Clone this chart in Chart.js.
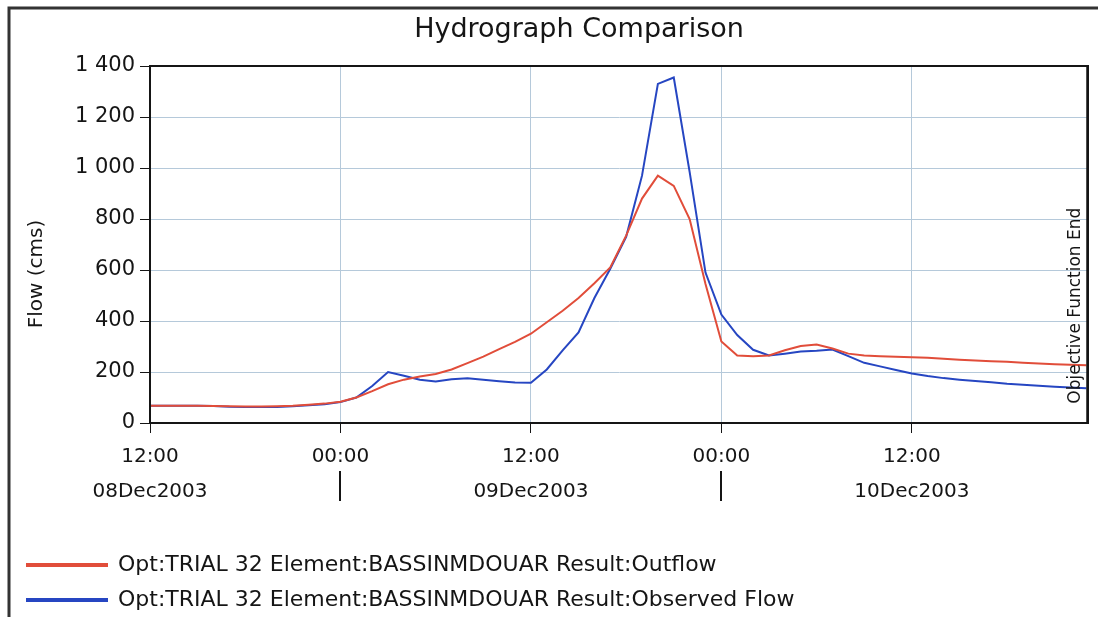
<!DOCTYPE html>
<html>
<head>
<meta charset="utf-8">
<title>Hydrograph Comparison</title>
<script src="https://cdn.jsdelivr.net/npm/chart.js@4.4.0/dist/chart.umd.min.js"></script>
<style>
    html, body { margin: 0; padding: 0; background: #fff; }
    #wrap { position: relative; width: 1098px; height: 617px; }
</style>
</head>
<body>
<div id="wrap"><canvas id="hydroChart"></canvas></div>
<script>
// hours after 12:00 08Dec2003
const hours = [0, 1, 2, 3, 4, 5, 6, 7, 8, 9,
    10, 11, 12, 13, 14, 15, 16, 17, 18, 19,
    20, 21, 22, 23, 24, 25, 26, 27, 28, 29,
    30, 31, 32, 33, 34, 35, 36, 37, 38, 39,
    40, 41, 42, 43, 44, 45, 46, 47, 48, 49,
    50, 51, 52, 53, 54, 55, 56, 57, 58, 59];

const outflow = [68, 68, 68, 68, 67, 66, 65, 65, 66, 68,
    72, 76, 83, 100, 125, 152, 170, 182, 192, 210,
    235, 260, 290, 318, 350, 395, 440, 490, 548, 610,
    735, 880, 970, 930, 800, 545, 320, 265, 262, 265,
    285, 302, 308, 292, 272, 265, 262, 260, 258, 256,
    252, 248, 245, 242, 240, 236, 233, 230, 228, 226];

const observed = [68, 68, 68, 68, 67, 64, 63, 63, 63, 66,
    70, 74, 82, 100, 145, 200, 185, 170, 163, 172,
    175, 170, 164, 159, 158, 210, 285, 355, 490, 605,
    730, 970, 1330, 1355, 985, 590, 425, 345, 287, 265,
    272, 280, 283, 288, 262, 236, 222, 208, 194, 184,
    176, 170, 165, 160, 154, 150, 146, 142, 139, 136];

const xTickHours = [0, 12, 24, 36, 48];
const xTickTimes = ['12:00', '00:00', '12:00', '00:00', '12:00'];
const xTickDates = ['08Dec2003', '', '09Dec2003', '', '10Dec2003'];
const dayBreakHours = [12, 36];
const yTicks = [0, 200, 400, 600, 800, 1000, 1200, 1400];
const endHour = 59.1;

const FONT = 'DejaVu Sans';
const INK = '#151515';
const GRID = '#b5c9da';

function formatFlow(v) {
    if (v < 1000) return String(v);
    return Math.floor(v / 1000) + ' ' + String(v % 1000).padStart(3, '0');
}

function rotatedText(ctx, text, x, y, size, baseline) {
    ctx.save();
    ctx.translate(x, y);
    ctx.rotate(-Math.PI / 2);
    ctx.fillStyle = INK;
    ctx.font = size + 'px "' + FONT + '"';
    ctx.textAlign = 'center';
    ctx.textBaseline = baseline;
    ctx.fillText(text, 0, 0);
    ctx.restore();
}

const decorPlugin = {
    id: 'decor',
    afterDraw(chart) {
        const { ctx, chartArea: a, scales: { x, y } } = chart;
        ctx.save();

        // title (sits a little left of the plot centre in the original)
        ctx.fillStyle = INK;
        ctx.font = '27px "' + FONT + '"';
        ctx.textAlign = 'center';
        ctx.textBaseline = 'middle';
        ctx.fillText('Hydrograph Comparison', 579, 30);

        // plot frame
        ctx.strokeStyle = INK;
        ctx.lineWidth = 2;
        ctx.strokeRect(a.left, a.top, a.right - a.left, a.bottom - a.top);

        // day separators under 00:00
        dayBreakHours.forEach(h => {
            const px = Math.round(x.getPixelForValue(h));
            ctx.beginPath();
            ctx.moveTo(px, a.bottom + 48);
            ctx.lineTo(px, a.bottom + 78);
            ctx.stroke();
        });

        // objective function end marker
        const ex = x.getPixelForValue(endHour) - 1;
        ctx.lineWidth = 1.5;
        ctx.beginPath();
        ctx.moveTo(ex, a.top);
        ctx.lineTo(ex, a.bottom);
        ctx.stroke();
        rotatedText(ctx, 'Objective Function End', ex - 7, y.getPixelForValue(460), 17, 'alphabetic');

        // y axis title
        rotatedText(ctx, 'Flow (cms)', 37, 274, 20, 'middle');

        // outer frame (top and left)
        ctx.strokeStyle = '#333';
        ctx.lineWidth = 3;
        ctx.beginPath();
        ctx.moveTo(9, chart.height);
        ctx.lineTo(9, 8);
        ctx.lineTo(chart.width, 8);
        ctx.stroke();

        ctx.restore();
    }
};

const ctx = document.getElementById('hydroChart').getContext('2d');
const hydroChart = new Chart(ctx, {
    type: 'line',
    data: {
        datasets: [
            {
                label: 'Opt:TRIAL 32 Element:BASSINMDOUAR Result:Outflow',
                data: hours.map((h, i) => ({ x: h, y: outflow[i] })),
                borderColor: '#e14d3a',
                backgroundColor: '#e14d3a',
                borderWidth: 2,
                pointRadius: 0,
                tension: 0
            },
            {
                label: 'Opt:TRIAL 32 Element:BASSINMDOUAR Result:Observed Flow',
                data: hours.map((h, i) => ({ x: h, y: observed[i] })),
                borderColor: '#2646c2',
                backgroundColor: '#2646c2',
                borderWidth: 2,
                pointRadius: 0,
                tension: 0
            }
        ]
    },
    options: {
        responsive: true,
        maintainAspectRatio: false,
        animation: false,
        layout: { padding: { left: 14, right: 10, top: 66, bottom: -4 } },
        plugins: {
            title: { display: false },
            legend: {
                position: 'bottom',
                align: 'start',
                labels: {
                    color: INK,
                    font: { family: FONT, size: 22 },
                    boxWidth: 80,
                    boxHeight: 2,
                    padding: 13
                }
            },
            tooltip: { enabled: false }
        },
        scales: {
            x: {
                type: 'linear',
                min: 0,
                max: endHour,
                afterBuildTicks: s => { s.ticks = xTickHours.map(v => ({ value: v })); },
                afterFit: s => { s.height = 118; },
                ticks: {
                    autoSkip: false,
                    maxRotation: 0,
                    color: INK,
                    padding: 6,
                    font: { family: FONT, size: 20, lineHeight: 1.75 },
                    callback: (v, i) => [xTickTimes[i], xTickDates[i]]
                },
                grid: { color: GRID, lineWidth: 1, tickLength: 10, tickColor: INK },
                border: { color: INK, width: 2 }
            },
            y: {
                min: 0,
                max: 1400,
                afterBuildTicks: s => { s.ticks = yTicks.map(v => ({ value: v })); },
                afterFit: s => { s.width = 136; },
                ticks: {
                    color: INK,
                    padding: 5,
                    font: { family: FONT, size: 21 },
                    callback: v => formatFlow(v)
                },
                grid: { color: GRID, lineWidth: 1, tickLength: 10, tickColor: INK },
                border: { color: INK, width: 2 }
            }
        }
    },
    plugins: [decorPlugin]
});
</script>
</body>
</html>
